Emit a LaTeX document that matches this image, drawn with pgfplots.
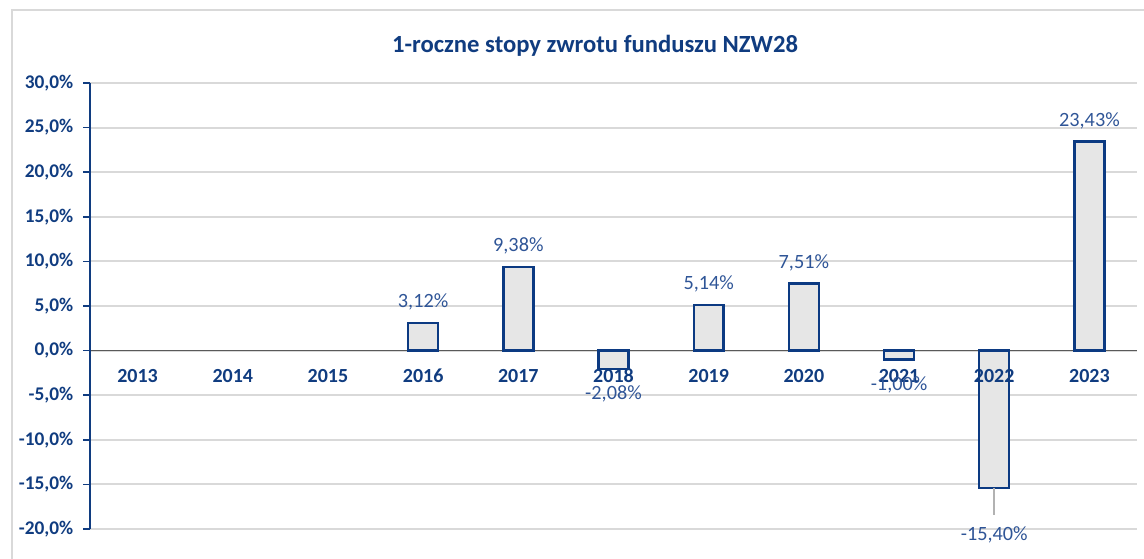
\documentclass[border=0pt]{standalone}
\usepackage{fontspec}
\setmainfont{Carlito}
\usepackage{pgfplots}
\pgfplotsset{compat=1.18}
\definecolor{axblue}{RGB}{16,60,128}
\definecolor{lblblue}{RGB}{47,85,151}
\definecolor{baredge}{RGB}{12,58,130}
\definecolor{barfill}{RGB}{230,230,230}
\definecolor{gridgray}{RGB}{217,217,217}
\definecolor{zerogray}{RGB}{89,89,89}
\begin{document}
\begin{tikzpicture}
\clip (0,0) rectangle (858pt,419.25pt);
\draw[gridgray, line width=1.5pt] (9pt,-10pt) -- (9pt,411.75pt) -- (880pt,411.75pt);
\node[font=\fontsize{18.5}{22}\selectfont\bfseries, text=axblue] at (446.25pt,385pt) {1-roczne stopy zwrotu funduszu NZW28};
\begin{axis}[
  at={(67.5pt,22.5pt)}, anchor=south west,
  scale only axis, width=785.25pt, height=334.5pt,
  xmin=-0.5, xmax=10.5, ymin=-20, ymax=30,
  axis x line*=middle, axis y line*=left,
  hide obscured x ticks=false, hide obscured y ticks=false,
  xtick={0,...,10},
  xticklabels={},
  minor xtick={-0.5,0.5,...,10.5},
  x axis line style={zerogray, line width=1.3pt},
  y axis line style={axblue, line width=1.5pt},
  xtick style={draw=none},
  minor x tick style={zerogray, line width=1.2pt},
  minor tick length=5pt,
  ytick={-20,-15,...,30},
  ytick style={axblue, line width=1.2pt},
  major tick length=5pt,
  tick align=outside,
  ymajorgrids, grid style={gridgray, line width=1.5pt},
  yticklabel={\pgfmathprintnumber[fixed,fixed zerofill,precision=1,use comma,assume math mode=true]{\tick}\%},
  ticklabel style={font=\fontsize{14.5}{17}\selectfont\bfseries, text=axblue},
  yticklabel style={xshift=-4pt},
  clip=false,
]
\addplot[ybar, bar shift=0pt, bar width=0.315, draw=baredge, fill=barfill, line width=1.8pt,
  nodes near coords={\pgfmathprintnumber[fixed,fixed zerofill,precision=2,use comma,assume math mode=true]{\pgfplotspointmeta}\%},
  every node near coord/.append style={font=\fontsize{15.2}{17}\selectfont, text=lblblue, text height=0.63em, text depth=0pt, inner ysep=10.5pt}]
coordinates {(3,3.12) (4,9.38) (6,5.14) (7,7.51) (10,23.43)};
\addplot[ybar, bar shift=0pt, bar width=0.315, draw=baredge, fill=barfill, line width=1.8pt,
  nodes near coords={\pgfmathprintnumber[fixed,fixed zerofill,precision=2,use comma,assume math mode=true]{\pgfplotspointmeta}\%},
  every node near coord/.append style={font=\fontsize{15.2}{17}\selectfont, text=lblblue, text height=0.63em, text depth=0pt, inner ysep=15.75pt}]
coordinates {(5,-2.08) (8,-1.00)};
\addplot[ybar, bar shift=0pt, bar width=0.315, draw=baredge, fill=barfill, line width=1.8pt,
  nodes near coords={\pgfmathprintnumber[fixed,fixed zerofill,precision=2,use comma,assume math mode=true]{\pgfplotspointmeta}\%},
  every node near coord/.append style={font=\fontsize{15.2}{17}\selectfont, text=lblblue, text height=0.63em, text depth=0pt, inner ysep=31.9pt}]
coordinates {(9,-15.40)};
\draw[gray!60, line width=1.2pt] (axis cs:9,-15.40) -- ++(0pt,-20.25pt);
\pgfplotsinvokeforeach{0,...,10}{
  \node[font=\fontsize{15}{17}\selectfont\bfseries, text=axblue, anchor=center, text height=0.63em, text depth=0pt, inner sep=0pt]
    at ([yshift=-20.5pt]axis cs:#1,0) {\pgfmathparse{int(2013+#1)}\pgfmathresult};
}
\end{axis}
\end{tikzpicture}
\end{document}
